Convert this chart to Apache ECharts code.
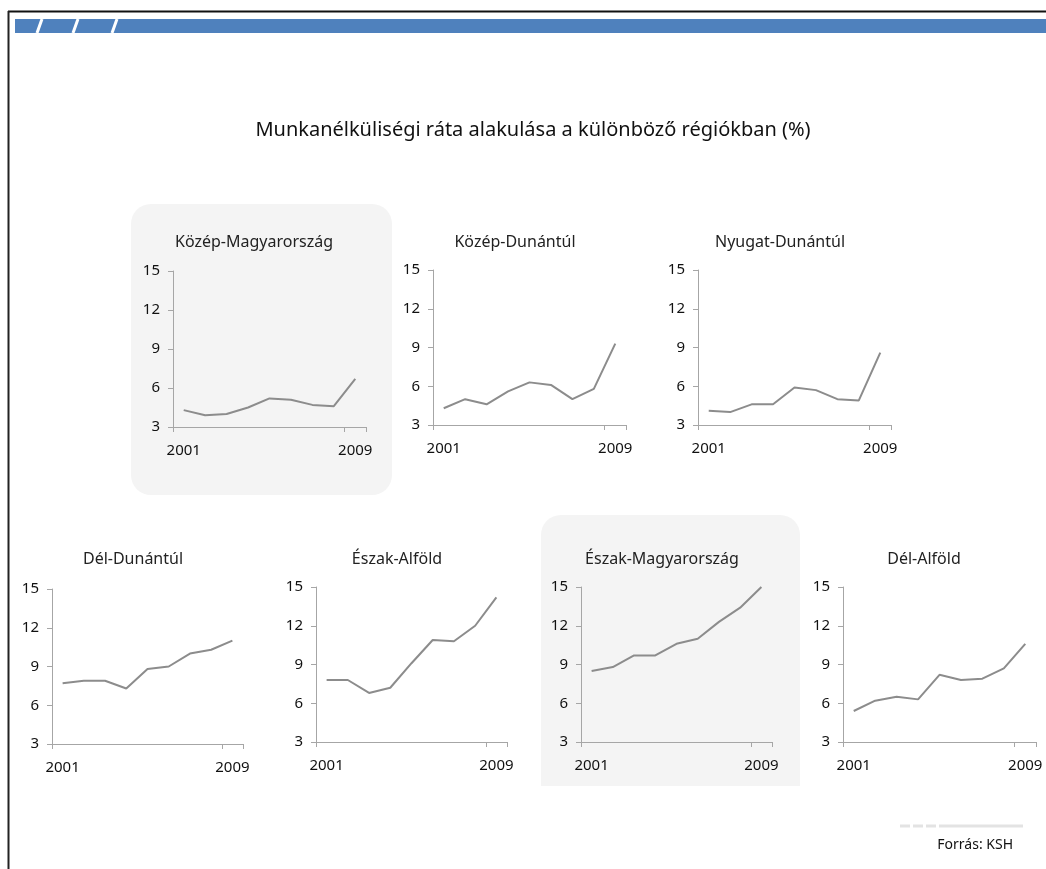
<!DOCTYPE html>
<html>
<head>
<meta charset="utf-8">
<script src="https://cdn.jsdelivr.net/npm/echarts@6/dist/echarts.min.js"></script>
<style>
	html, body { margin: 0; padding: 0; background: #fff; }
	#chart { width: 1046px; height: 869px; }
</style>
</head>
<body>
<div id="chart"></div>
<script>
var years = ["2001", "2002", "2003", "2004", "2005", "2006", "2007", "2008", "2009"];
var yTicks = [3, 6, 9, 12, 15];
var regions = ["Közép-Magyarország", "Közép-Dunántúl", "Nyugat-Dunántúl", "Dél-Dunántúl", "Észak-Alföld", "Észak-Magyarország", "Dél-Alföld"];
var kozepMagyarorszag = [4.3, 3.9, 4.0, 4.5, 5.2, 5.1, 4.7, 4.6, 6.7];
var kozepDunantul = [4.3, 5.0, 4.6, 5.6, 6.3, 6.1, 5.0, 5.8, 9.3];
var nyugatDunantul = [4.1, 4.0, 4.6, 4.6, 5.9, 5.7, 5.0, 4.9, 8.6];
var delDunantul = [7.7, 7.9, 7.9, 7.3, 8.8, 9.0, 10.0, 10.3, 11.0];
var eszakAlfold = [7.8, 7.8, 6.8, 7.2, 9.1, 10.9, 10.8, 12.0, 14.2];
var eszakMagyarorszag = [8.5, 8.8, 9.7, 9.7, 10.6, 11.0, 12.3, 13.4, 15.0];
var delAlfold = [5.4, 6.2, 6.5, 6.3, 8.2, 7.8, 7.9, 8.7, 10.6];
var values = [kozepMagyarorszag, kozepDunantul, nyugatDunantul, delDunantul, eszakAlfold, eszakMagyarorszag, delAlfold];

// panel layout: grid box + title center
var boxes = [
	{left: 173, top: 271, width: 193, height: 156, tx: 254, ty: 242},
	{left: 433, top: 270, width: 193, height: 155, tx: 515, ty: 242},
	{left: 698, top: 270, width: 193, height: 155, tx: 780, ty: 242},
	{left: 52, top: 589, width: 191, height: 155, tx: 133, ty: 559},
	{left: 316, top: 587, width: 191, height: 155, tx: 397, ty: 559},
	{left: 581, top: 587, width: 191, height: 155, tx: 662, ty: 559},
	{left: 843, top: 587, width: 193, height: 155, tx: 924, ty: 559}
];

var font = "'Noto Sans', 'Open Sans', sans-serif";
var axisCol = "#a6a6a6";

var grids = [], xAxes = [], yAxes = [], series = [];
var graphics = [
	// grey highlighted panels
	{type: "rect", z: -10, shape: {x: 131, y: 204, width: 261, height: 291, r: 20}, style: {fill: "#f4f4f4"}},
	{type: "rect", z: -10, shape: {x: 541, y: 515, width: 259, height: 271, r: [20, 20, 0, 0]}, style: {fill: "#f4f4f4"}},
	// frame
	{type: "line", shape: {x1: 8, y1: 11.5, x2: 1046, y2: 11.5}, style: {stroke: "#111", lineWidth: 2}},
	{type: "line", shape: {x1: 8.5, y1: 11, x2: 8.5, y2: 869}, style: {stroke: "#222", lineWidth: 2}},
	// blue band with slashes
	{type: "rect", shape: {x: 15, y: 19, width: 1031, height: 14}, style: {fill: "#4f81bd"}},
	{type: "line", shape: {x1: 42, y1: 19, x2: 37, y2: 33}, style: {stroke: "#fff", lineWidth: 3}},
	{type: "line", shape: {x1: 78, y1: 19, x2: 73, y2: 33}, style: {stroke: "#fff", lineWidth: 3}},
	{type: "line", shape: {x1: 117, y1: 19, x2: 112, y2: 33}, style: {stroke: "#fff", lineWidth: 3}},
	// main title
	{type: "text", x: 533, y: 130, style: {text: "Munkanélküliségi ráta alakulása a különböző régiókban (%)", font: "20px " + font, fill: "#111", textAlign: "center", textVerticalAlign: "middle"}},
	// source note
	{type: "line", shape: {x1: 900, y1: 826, x2: 1023, y2: 826}, style: {stroke: "#e3e3e3", lineWidth: 3, lineDash: [10, 3, 10, 3, 10, 3, 200, 0]}},
	{type: "text", x: 1013, y: 845, style: {text: "Forrás: KSH", font: "14px " + font, fill: "#111", textAlign: "right", textVerticalAlign: "middle"}}
];

boxes.forEach(function(b, i) {
	grids.push({left: b.left, top: b.top, width: b.width, height: b.height});
	xAxes.push({
		type: "category", gridIndex: i, data: years, boundaryGap: true,
		axisLine: {lineStyle: {color: axisCol}},
		axisTick: {show: true, length: 5, lineStyle: {color: axisCol}},
		axisLabel: {
			interval: function(idx) { return idx === 0 || idx === years.length - 1; },
			margin: 16, color: "#111", fontSize: 15, fontFamily: font
		}
	});
	yAxes.push({
		type: "value", gridIndex: i, min: yTicks[0], max: yTicks[yTicks.length - 1], interval: 3,
		axisLine: {show: true, lineStyle: {color: axisCol}},
		axisTick: {show: true, length: 5, lineStyle: {color: axisCol}},
		splitLine: {show: false},
		axisLabel: {margin: 13, color: "#111", fontSize: 15, fontFamily: font}
	});
	series.push({
		type: "line", xAxisIndex: i, yAxisIndex: i, data: values[i],
		symbol: "none", lineStyle: {color: "#8c8c8c", width: 2}, animation: false
	});
	graphics.push({type: "text", x: b.tx, y: b.ty, style: {text: regions[i], font: "16px " + font, fill: "#222", textAlign: "center", textVerticalAlign: "middle"}});
});

var chart = echarts.init(document.getElementById("chart"));
chart.setOption({
	animation: false,
	backgroundColor: "#fff",
	grid: grids,
	xAxis: xAxes,
	yAxis: yAxes,
	series: series,
	graphic: graphics
});
</script>
</body>
</html>
